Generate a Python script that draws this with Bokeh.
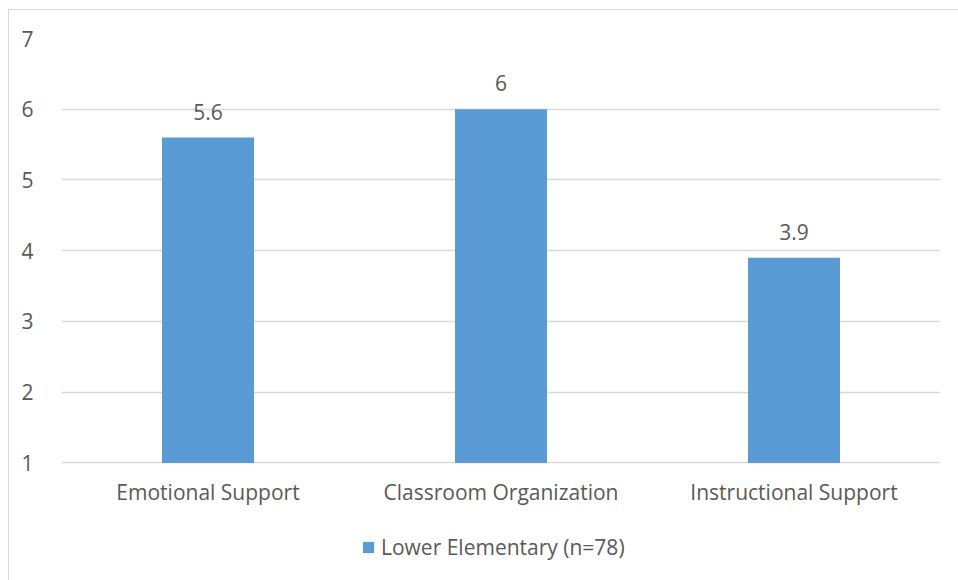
from bokeh.plotting import figure
from bokeh.models import FactorRange, Range1d, Legend, LegendItem, ColumnDataSource, LabelSet, FixedTicker
from bokeh.core.properties import value
from bokeh.embed import file_html
from bokeh.resources import INLINE

# CLASS domain means, lower elementary classrooms
categories = ["Emotional Support", "Classroom Organization", "Instructional Support"]
scores = [5.6, 6.0, 3.9]
score_labels = ["5.6", "6", "3.9"]
series_name = "Lower Elementary (n=78)"
y_ticks = [1, 2, 3, 4, 5, 6, 7]

TEXT = "#595959"
GRID = "#D9D9D9"
BAR = "#5B9BD5"
FONT = "Open Sans"
FSIZE = "21px"

axis_min = y_ticks[0]
axis_max = y_ticks[-1]
# frame runs down past the baseline so the category labels and legend
# can sit inside it, below the value axis
y_start = axis_min - 1.6627

src = ColumnDataSource(dict(cat=categories, val=scores, lab=score_labels,
                            base=[axis_min] * len(categories)))

p = figure(
    x_range=FactorRange(*categories, range_padding=0),
    y_range=Range1d(y_start, axis_max),
    x_axis_location=None,
    frame_width=879, frame_height=542,
    output_backend="svg", toolbar_location=None,
    min_border_left=52, min_border_right=18,
    min_border_top=28, min_border_bottom=0,
)
p.styles = {
    "margin-left": "8px", "margin-top": "9px",
    "border-left": f"1px solid {GRID}", "border-top": f"1px solid {GRID}",
}
p.outline_line_color = None
p.background_fill_color = "white"
p.border_fill_color = "white"

bars = p.vbar(x="cat", top="val", bottom="base", width=0.314, source=src,
              fill_color=BAR, line_color=None)

# value labels above each bar
p.add_layout(LabelSet(x="cat", y="val", text="lab", source=src,
                      text_align="center", text_baseline="alphabetic",
                      y_offset=18, text_font=value(FONT), text_font_size=value(FSIZE),
                      text_color=TEXT))

# category labels under the baseline
p.add_layout(LabelSet(x="cat", y="base", text="cat", source=src,
                      text_align="center", text_baseline="top",
                      y_offset=-15, text_font=value(FONT), text_font_size=value(FSIZE),
                      text_color=TEXT))

p.xgrid.grid_line_color = None
p.ygrid.grid_line_color = GRID
p.ygrid.grid_line_width = 1.5
p.yaxis.ticker = FixedTicker(ticks=y_ticks)
p.yaxis.major_tick_line_color = None
p.yaxis.minor_tick_line_color = None
p.yaxis.major_label_text_font = FONT
p.yaxis.major_label_text_font_size = FSIZE
p.yaxis.major_label_text_color = TEXT
p.yaxis.axis_line_color = None
p.yaxis.major_label_standoff = 22

legend = Legend(items=[LegendItem(label=series_name, renderers=[bars])],
                orientation="horizontal", location=(300, 19),
                glyph_width=14, glyph_height=14, label_standoff=6,
                label_text_font=FONT, label_text_font_size=FSIZE,
                label_text_color=TEXT, border_line_color=None,
                background_fill_alpha=0, padding=0, margin=0)
p.add_layout(legend, "center")

open("out.html", "w").write(file_html(p, INLINE))
